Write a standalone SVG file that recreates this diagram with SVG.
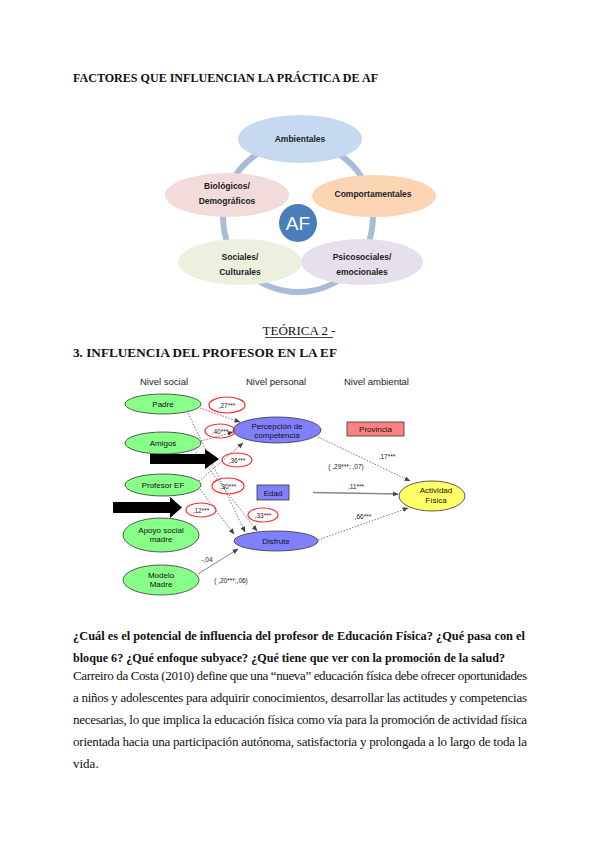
<svg xmlns="http://www.w3.org/2000/svg" width="600" height="848" viewBox="0 0 600 848">
<defs>
<style>
.tb{font-family:"Liberation Serif","Times New Roman",serif;font-weight:bold;font-size:13px;fill:#111}
.tr{font-family:"Liberation Serif","Times New Roman",serif;font-size:13px;fill:#111}
.el{font-family:"Liberation Sans",Arial,sans-serif;font-weight:bold;font-size:8.5px;fill:#222;text-anchor:middle}
.nv{font-family:"Liberation Sans",Arial,sans-serif;font-size:9.5px;fill:#222}
.nt{font-family:"Liberation Sans",Arial,sans-serif;font-size:8px;fill:#111;text-anchor:middle}
.lb{font-family:"Liberation Sans",Arial,sans-serif;font-size:6.5px;fill:#223;text-anchor:middle}
.grn{fill:#88ff88;stroke:#333;stroke-width:0.8}
.pur{fill:#8080ff;stroke:#333;stroke-width:0.8}
.red{fill:none;stroke:#ff2a2a;stroke-width:1.2}
.dot{fill:none;stroke:#555;stroke-width:0.8;stroke-dasharray:1.5 1.5}
.sol{fill:none;stroke:#666;stroke-width:0.8}
</style>
<marker id="ah" viewBox="0 0 10 10" refX="9" refY="5" markerWidth="6" markerHeight="6" orient="auto" markerUnits="userSpaceOnUse">
<path d="M0,1 L10,5 L0,9 Z" fill="#444"/>
</marker>
</defs>
<rect width="600" height="848" fill="#fff"/>

<text class="tb" x="73" y="82" textLength="305" lengthAdjust="spacingAndGlyphs">FACTORES QUE INFLUENCIAN LA PRÁCTICA DE AF</text>

<!-- top cycle diagram -->
<g id="ring"><circle cx="298" cy="217" r="75" fill="none" stroke="#a8bcda" stroke-width="6"/></g>
<g id="ambientales"><ellipse cx="300" cy="139" rx="62" ry="24" fill="#c6d9f1"/><text class="el" x="300" y="142">Ambientales</text></g>
<g id="biologicos"><ellipse cx="227" cy="195" rx="62" ry="22" fill="#f2dcdb"/><text class="el" x="227" y="189">Biológicos/</text><text class="el" x="227" y="204">Demográficos</text></g>
<g id="comportamentales"><ellipse cx="374" cy="196" rx="62" ry="21" fill="#fbd4b4"/><text class="el" x="373" y="197">Comportamentales</text></g>
<g id="sociales"><ellipse cx="240" cy="262" rx="62" ry="23" fill="#ebf1de"/><text class="el" x="240" y="260">Sociales/</text><text class="el" x="240" y="275">Culturales</text></g>
<g id="psicosociales"><ellipse cx="362" cy="262" rx="61" ry="23" fill="#e5e0ec"/><text class="el" x="362" y="260">Psicosociales/</text><text class="el" x="362" y="275">emocionales</text></g>
<g id="af"><circle cx="298" cy="223" r="19" fill="#4a7ebb"/><text x="298" y="230" text-anchor="middle" font-family="Liberation Sans, Arial, sans-serif" font-size="19" fill="#fff">AF</text></g>

<text class="tr" x="299" y="335" text-anchor="middle">TEÓRICA 2 -</text>
<line x1="265" y1="337.5" x2="333" y2="337.5" stroke="#111" stroke-width="0.8"/>
<text class="tb" x="73" y="357" textLength="264" lengthAdjust="spacingAndGlyphs">3. INFLUENCIA DEL PROFESOR EN LA EF</text>

<!-- path diagram -->
<text class="nv" x="140" y="385">Nivel social</text>
<text class="nv" x="246" y="385">Nivel personal</text>
<text class="nv" x="344" y="385">Nivel ambiental</text>

<g id="connectors">
<line class="dot" x1="200" y1="408" x2="240" y2="422" marker-end="url(#ah)"/>
<line class="dot" x1="201" y1="441" x2="233" y2="432" marker-end="url(#ah)"/>
<line class="dot" x1="199" y1="481" x2="243" y2="443" marker-end="url(#ah)"/>
<line class="dot" x1="188" y1="413" x2="245" y2="532" marker-end="url(#ah)"/>
<line class="dot" x1="196" y1="452" x2="257" y2="531" marker-end="url(#ah)"/>
<line class="dot" x1="200" y1="489" x2="234" y2="534" marker-end="url(#ah)"/>
<line class="sol" x1="198" y1="574" x2="238" y2="549" marker-end="url(#ah)"/>
<line class="dot" x1="318" y1="437" x2="410" y2="481" marker-end="url(#ah)"/>
<line x1="313" y1="492.5" x2="398" y2="494" stroke="#888" stroke-width="1.3" marker-end="url(#ah)"/>
<line class="dot" x1="318" y1="540" x2="408" y2="508" marker-end="url(#ah)"/>
</g>

<g id="padre"><ellipse class="grn" cx="163" cy="404" rx="38" ry="10"/><text class="nt" x="163" y="407">Padre</text></g>
<g id="amigos"><ellipse class="grn" cx="163" cy="443" rx="38" ry="11"/><text class="nt" x="163" y="446">Amigos</text></g>
<g id="profesor"><ellipse class="grn" cx="163" cy="485" rx="38" ry="11"/><text class="nt" x="163" y="488">Profesor EF</text></g>
<g id="apoyo"><ellipse class="grn" cx="161" cy="535" rx="38" ry="17"/><text class="nt" x="161" y="533">Apoyo social</text><text class="nt" x="161" y="542">madre</text></g>
<g id="modelo"><ellipse class="grn" cx="161" cy="580" rx="38" ry="15"/><text class="nt" x="161" y="578">Modelo</text><text class="nt" x="161" y="587">Madre</text></g>

<g id="percepcion"><ellipse class="pur" cx="277" cy="430" rx="44" ry="13"/><text class="nt" x="277" y="429">Percepción de</text><text class="nt" x="277" y="438">competencia</text></g>
<g id="disfrute"><ellipse class="pur" cx="276" cy="541" rx="42" ry="10"/><text class="nt" x="276" y="544">Disfrute</text></g>
<g id="provincia"><rect x="347" y="422" width="57" height="14" fill="#ff8080" stroke="#333" stroke-width="0.8"/><text class="nt" x="375.5" y="432">Provincia</text></g>
<g id="edad"><rect x="257" y="485" width="32" height="15" fill="#8080ff" stroke="#333" stroke-width="0.8"/><text class="nt" x="273" y="495.5">Edad</text></g>
<g id="actividad"><ellipse cx="432" cy="496" rx="33" ry="15" fill="#ffff66" stroke="#333" stroke-width="0.8"/><text class="nt" x="436" y="493">Actividad</text><text class="nt" x="436" y="503">Física</text></g>

<g id="arrows">
<polygon points="150,454 205,454 205,449 219,459 205,469 205,464 150,464" fill="#000"/>
<polygon points="113,502 170,502 170,497 182,507.5 170,518 170,513 113,513" fill="#000"/>
</g>

<g id="coef">
<ellipse class="red" cx="227" cy="405" rx="18" ry="8"/><text class="lb" x="227" y="407.5">,27***</text>
<ellipse class="red" cx="220" cy="431" rx="15" ry="7"/><text class="lb" x="220" y="433.5">,40***</text>
<ellipse class="red" cx="237" cy="460" rx="15" ry="7"/><text class="lb" x="237" y="462.5">,36***</text>
<ellipse class="red" cx="228" cy="486" rx="16" ry="8"/><text class="lb" x="228" y="488.5">,30***</text>
<ellipse class="red" cx="201" cy="510" rx="15" ry="7"/><text class="lb" x="201" y="512.5">,12***</text>
<ellipse class="red" cx="263" cy="515" rx="15" ry="7"/><text class="lb" x="263" y="517.5">,33***</text>
<text class="lb" x="387" y="459">,17***</text>
<text class="lb" x="346" y="469">( ,29***; ,07)</text>
<text class="lb" x="356" y="489">,11***</text>
<text class="lb" x="363" y="519">,66***</text>
<text class="lb" x="207" y="562">-,04</text>
<text class="lb" x="231" y="583">( ,20***;,06)</text>
</g>

<!-- text block -->
<text class="tb" x="73" y="640" textLength="452" lengthAdjust="spacingAndGlyphs">¿Cuál es el potencial de influencia del profesor de Educación Física? ¿Qué pasa con el</text>
<text class="tb" x="73" y="662" textLength="432" lengthAdjust="spacingAndGlyphs">bloque 6? ¿Qué enfoque subyace? ¿Qué tiene que ver con la promoción de la salud?</text>
<text class="tr" x="73" y="680" textLength="454" lengthAdjust="spacing">Carreiro da Costa (2010) define que una “nueva” educación física debe ofrecer oportunidades</text>
<text class="tr" x="73" y="702" textLength="454" lengthAdjust="spacing">a niños y adolescentes para adquirir conocimientos, desarrollar las actitudes y competencias</text>
<text class="tr" x="73" y="724" textLength="454" lengthAdjust="spacing">necesarias, lo que implica la educación física como vía para la promoción de actividad física</text>
<text class="tr" x="73" y="746" textLength="454" lengthAdjust="spacing">orientada hacia una participación autónoma, satisfactoria y prolongada a lo largo de toda la</text>
<text class="tr" x="73" y="768">vida.</text>
</svg>
